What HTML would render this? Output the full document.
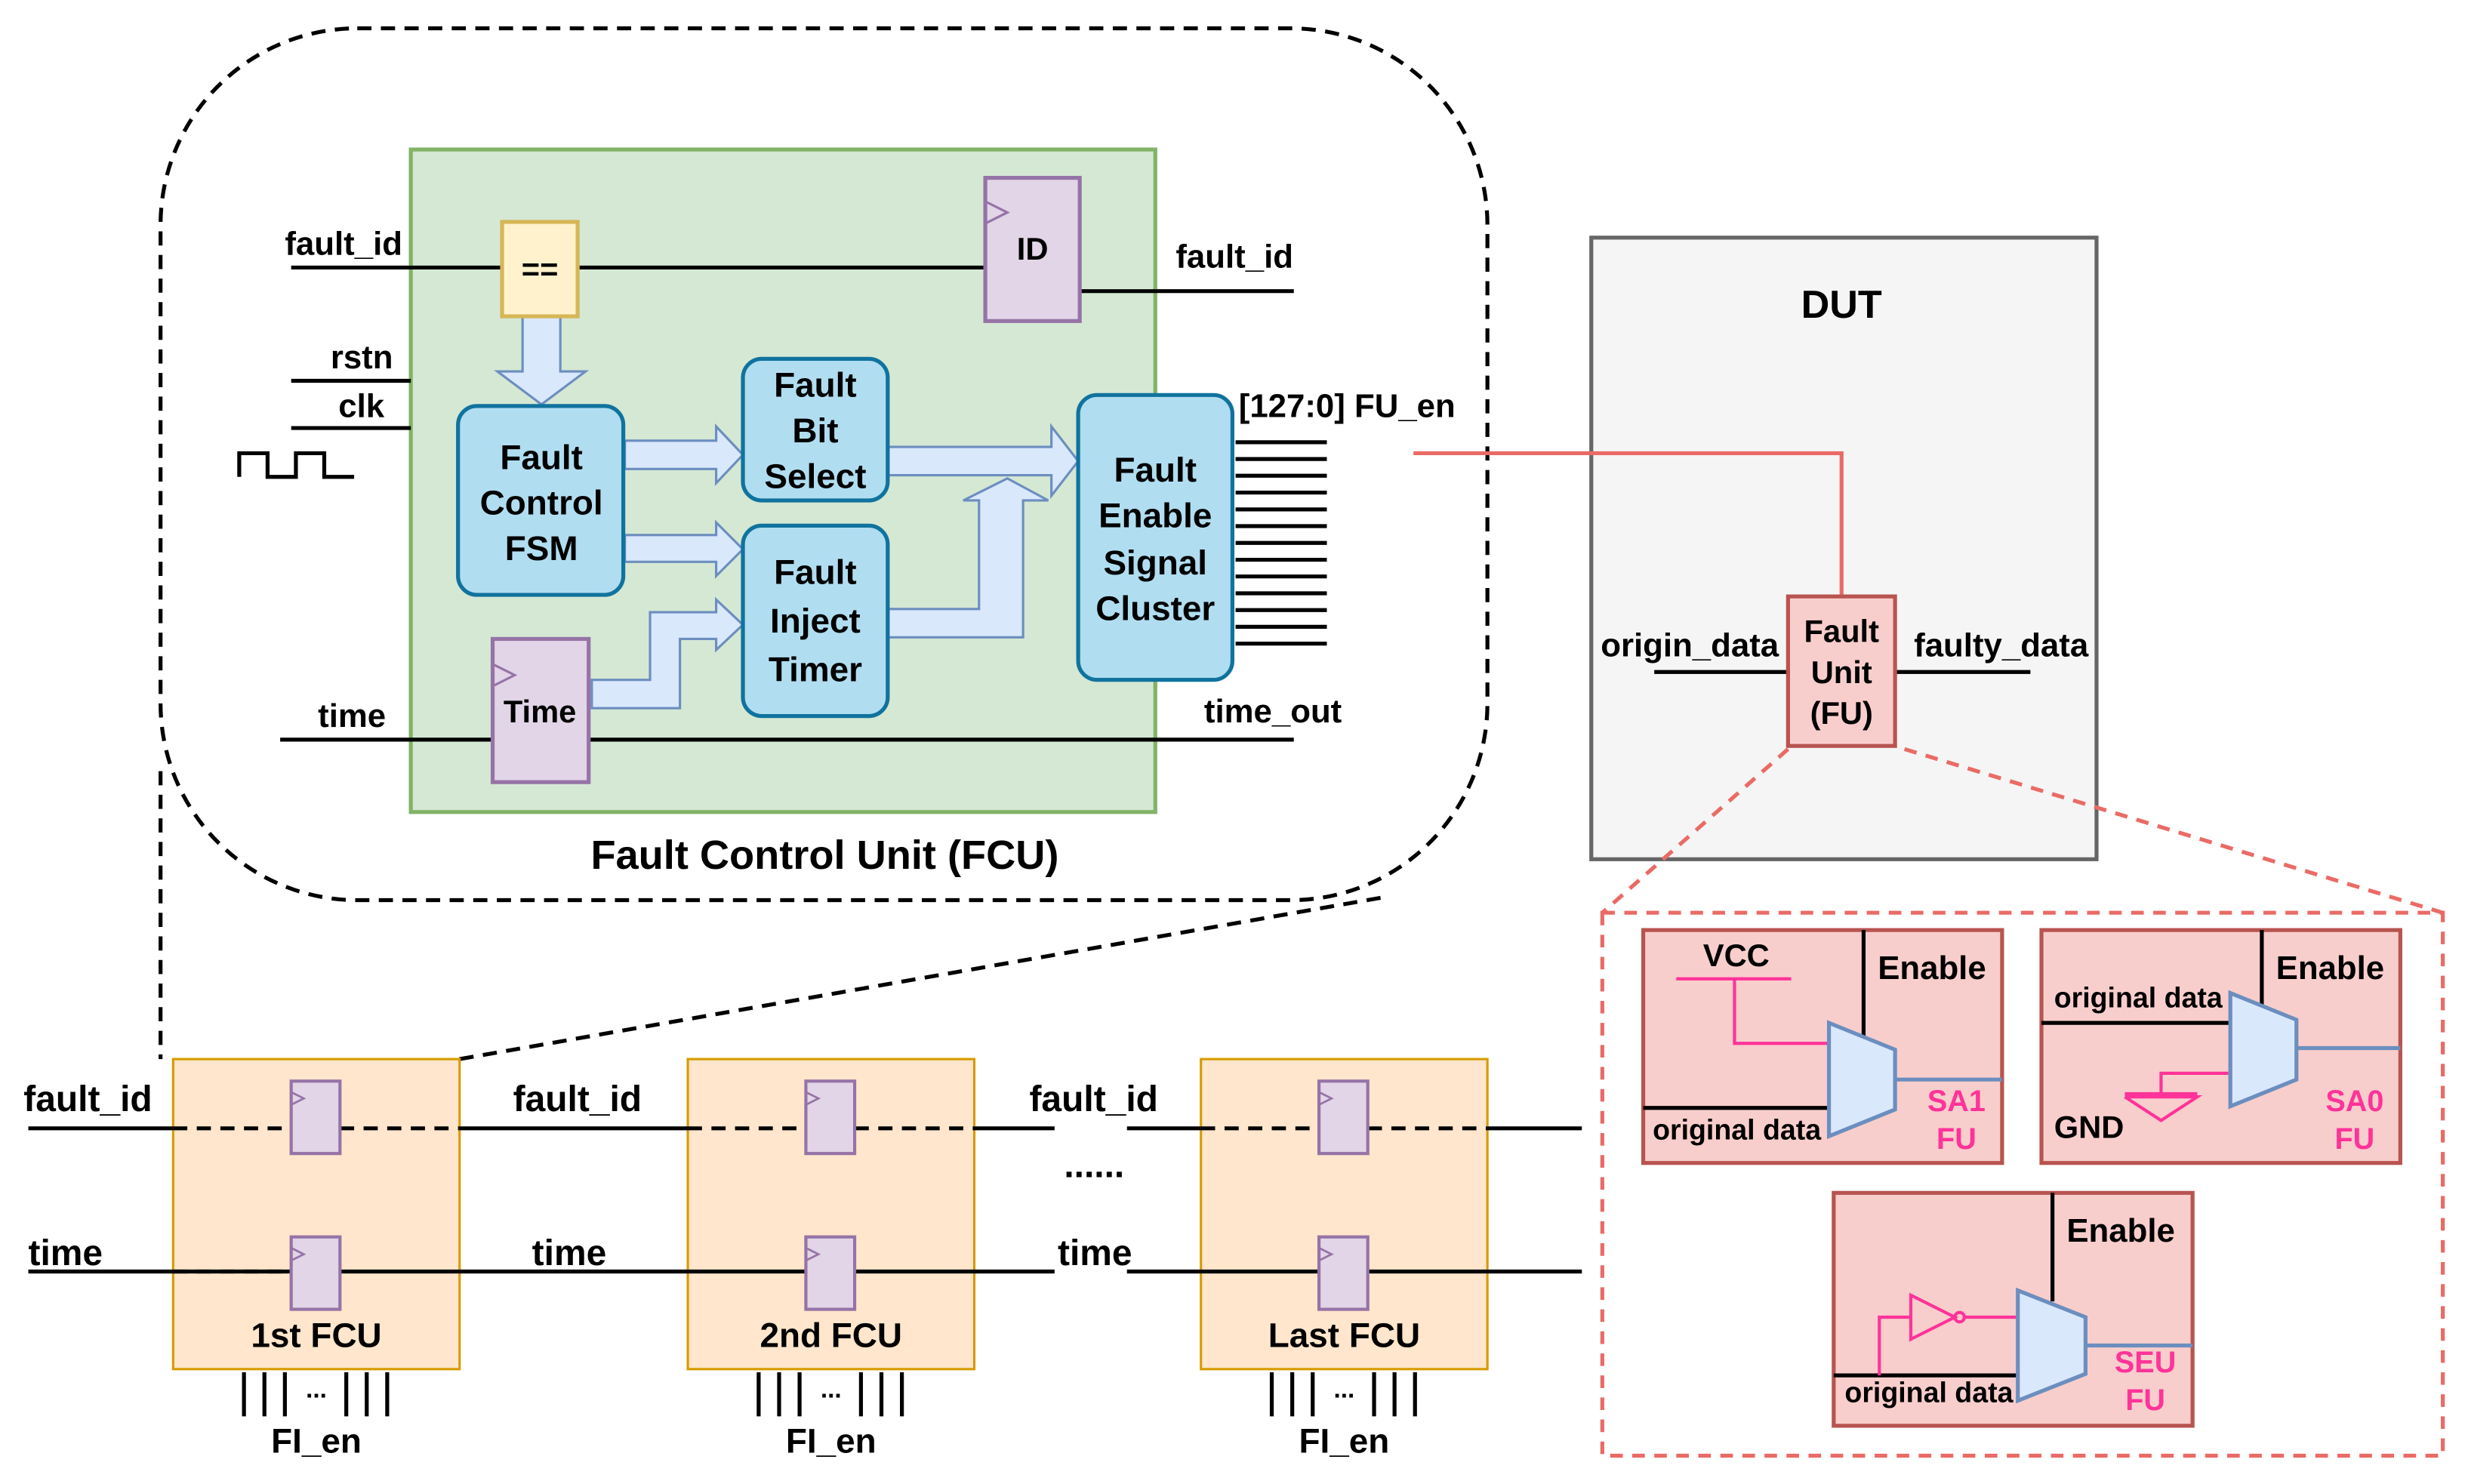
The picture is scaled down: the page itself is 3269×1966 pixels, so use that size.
<!DOCTYPE html>
<html><head><meta charset="utf-8"><style>html,body{margin:0;padding:0;background:#fff}svg{display:block}text{font-family:"Liberation Sans",sans-serif;font-weight:bold;fill:#000}</style></head><body>
<svg width="3269" height="1966" viewBox="0 0 1568 943" xmlns="http://www.w3.org/2000/svg">
<rect x="102" y="18" width="843" height="554" rx="125" fill="none" stroke="#000" stroke-width="2.5" stroke-dasharray="9,6"/>
<rect x="261" y="95" width="473" height="421" fill="#d5e8d4" stroke="#82b366" stroke-width="2.5"/>
<g stroke="#000" stroke-width="2.5" fill="none">
<line x1="185" y1="170" x2="319" y2="170"/><line x1="367" y1="170" x2="626" y2="170"/>
<line x1="686" y1="185" x2="822" y2="185"/>
<line x1="185" y1="242" x2="261" y2="242"/><line x1="185" y1="272" x2="261" y2="272"/>
<polyline points="152,303 152,288 170,288 170,303 188,303 188,288 206,288 206,303 225,303"/>
<line x1="178" y1="470" x2="313" y2="470"/><line x1="374" y1="470" x2="822" y2="470"/>
</g>
<g stroke="#000" stroke-width="2.5">
<line x1="785" y1="281" x2="843" y2="281"/><line x1="785" y1="291.7" x2="843" y2="291.7"/><line x1="785" y1="302.3" x2="843" y2="302.3"/><line x1="785" y1="313" x2="843" y2="313"/><line x1="785" y1="323.7" x2="843" y2="323.7"/><line x1="785" y1="334.3" x2="843" y2="334.3"/><line x1="785" y1="345" x2="843" y2="345"/><line x1="785" y1="355.7" x2="843" y2="355.7"/><line x1="785" y1="366.3" x2="843" y2="366.3"/><line x1="785" y1="377" x2="843" y2="377"/><line x1="785" y1="387.7" x2="843" y2="387.7"/><line x1="785" y1="398.3" x2="843" y2="398.3"/><line x1="785" y1="409" x2="843" y2="409"/>
</g>
<g fill="#dae8fc" stroke="#6c8ebf" stroke-width="1.5">
<polygon points="332,201 356,201 356,236 372,236 344,257 316,236 332,236"/>
<polygon points="397,280 455,280 455,271 472,289 455,307 455,298 397,298"/>
<polygon points="397,340 455,340 455,332 472,349 455,366 455,357 397,357"/>
<polygon points="564,284 668,284 668,271 685,293 668,315 668,302 564,302"/>
<polygon points="564,387 622,387 622,318 612,318 640,304 666,318 650,318 650,405 564,405"/>
<polygon points="376,432 413,432 413,389 455,389 455,381 472,397 455,413 455,406 432,406 432,450 376,450"/>
</g>
<rect x="319" y="141" width="48" height="60" fill="#fff2cc" stroke="#d6b656" stroke-width="2.5"/>
<text x="343" y="178" font-size="20" text-anchor="middle">==</text>
<rect x="626" y="113" width="60" height="91" fill="#e1d5e7" stroke="#9673a6" stroke-width="2.5"/>
<polyline points="626,128 640,135 626,142" fill="none" stroke="#9673a6" stroke-width="1.5"/>
<text x="656" y="165" font-size="20" text-anchor="middle">ID</text>
<rect x="313" y="406" width="61" height="91" fill="#e1d5e7" stroke="#9673a6" stroke-width="2.5"/>
<polyline points="313,422 327,429 313,436" fill="none" stroke="#9673a6" stroke-width="1.5"/>
<text x="343" y="459" font-size="20" text-anchor="middle">Time</text>
<g fill="#b1ddf0" stroke="#10739e" stroke-width="2.5">
<rect x="291" y="258" width="105" height="120" rx="12"/>
<rect x="472" y="228" width="92" height="90" rx="12"/>
<rect x="472" y="334" width="92" height="121" rx="12"/>
<rect x="685" y="251" width="98" height="181" rx="12"/>
</g>
<g font-size="22" text-anchor="middle">
<text x="344" y="298">Fault</text><text x="344" y="327">Control</text><text x="344" y="356">FSM</text>
<text x="518" y="252">Fault</text><text x="518" y="281">Bit</text><text x="518" y="310">Select</text>
<text x="518" y="371">Fault</text><text x="518" y="402">Inject</text><text x="518" y="433">Timer</text>
<text x="734" y="306">Fault</text><text x="734" y="335">Enable</text><text x="734" y="365">Signal</text><text x="734" y="394">Cluster</text>
</g>
<g font-size="21">
<text x="181" y="162">fault_id</text><text x="747" y="170">fault_id</text>
<text x="210" y="234">rstn</text><text x="215" y="265">clk</text>
<text x="202" y="462">time</text><text x="765" y="459">time_out</text>
<text x="787" y="265">[127:0] FU_en</text>
</g>
<text x="524" y="552" font-size="26" text-anchor="middle">Fault Control Unit (FCU)</text>
<rect x="1011" y="151" width="321" height="395" fill="#f5f5f5" stroke="#666" stroke-width="2.5"/>
<text x="1170" y="202" font-size="25" text-anchor="middle">DUT</text>
<polyline points="898,288 1170,288 1170,379" fill="none" stroke="#ea6b66" stroke-width="2.5"/>
<line x1="1051" y1="427" x2="1136" y2="427" stroke="#000" stroke-width="2.5"/>
<line x1="1204" y1="427" x2="1290" y2="427" stroke="#000" stroke-width="2.5"/>
<rect x="1136" y="379" width="68" height="95" fill="#f8cecc" stroke="#b85450" stroke-width="2.5"/>
<g font-size="20" text-anchor="middle"><text x="1170" y="408">Fault</text><text x="1170" y="434">Unit</text><text x="1170" y="460">(FU)</text></g>
<text x="1017" y="417" font-size="21">origin_data</text>
<text x="1216" y="417" font-size="21">faulty_data</text>
<g stroke="#ea6b66" stroke-width="2.5" stroke-dasharray="8,6" fill="none">
<line x1="1136" y1="476" x2="1018" y2="580"/><line x1="1210" y1="476" x2="1552" y2="580"/>
<rect x="1018" y="580" width="534" height="345"/>
</g>
<rect x="1044" y="591" width="228" height="148" fill="#f8cecc" stroke="#b85450" stroke-width="2.5"/>
<line x1="1184" y1="591" x2="1184" y2="659" stroke="#000" stroke-width="2.5"/>
<line x1="1044" y1="704" x2="1162" y2="704" stroke="#000" stroke-width="2.5"/>
<polyline points="1065,622 1138,622" stroke="#ff3399" stroke-width="2" fill="none"/>
<polyline points="1102,622 1102,663 1162,663" stroke="#ff3399" stroke-width="2" fill="none"/>
<line x1="1204" y1="686" x2="1272" y2="686" stroke="#6c8ebf" stroke-width="2.5"/>
<polygon points="1162,650 1204,667 1204,705 1162,722" fill="#dae8fc" stroke="#6c8ebf" stroke-width="2.5"/>
<text x="1082" y="614" font-size="20">VCC</text><text x="1193" y="622" font-size="21">Enable</text>
<text x="1050" y="724" font-size="18">original data</text>
<text x="1243" y="706" font-size="19" text-anchor="middle" style="fill:#ff3399">SA1</text>
<text x="1243" y="730" font-size="19" text-anchor="middle" style="fill:#ff3399">FU</text>
<rect x="1297" y="591" width="228" height="148" fill="#f8cecc" stroke="#b85450" stroke-width="2.5"/>
<line x1="1437" y1="591" x2="1437" y2="652" stroke="#000" stroke-width="2.5"/>
<line x1="1297" y1="650" x2="1417" y2="650" stroke="#000" stroke-width="2.5"/>
<polyline points="1373,695 1373,682 1417,682" stroke="#ff3399" stroke-width="2" fill="none"/>
<line x1="1350" y1="695" x2="1396" y2="695" stroke="#ff3399" stroke-width="2"/>
<polyline points="1350,697 1396,697 1373,712 1350,697" stroke="#ff3399" stroke-width="2" fill="none"/>
<line x1="1459" y1="666" x2="1525" y2="666" stroke="#6c8ebf" stroke-width="2.5"/>
<polygon points="1417,631 1459,648 1459,686 1417,703" fill="#dae8fc" stroke="#6c8ebf" stroke-width="2.5"/>
<text x="1305" y="640" font-size="18">original data</text><text x="1446" y="622" font-size="21">Enable</text>
<text x="1305" y="723" font-size="20">GND</text>
<text x="1496" y="706" font-size="19" text-anchor="middle" style="fill:#ff3399">SA0</text>
<text x="1496" y="730" font-size="19" text-anchor="middle" style="fill:#ff3399">FU</text>
<rect x="1165" y="758" width="228" height="148" fill="#f8cecc" stroke="#b85450" stroke-width="2.5"/>
<line x1="1304" y1="758" x2="1304" y2="827" stroke="#000" stroke-width="2.5"/>
<line x1="1165" y1="874" x2="1282" y2="874" stroke="#000" stroke-width="2.5"/>
<polyline points="1194,874 1194,837 1214,837" stroke="#ff3399" stroke-width="2" fill="none"/>
<polygon points="1214,823 1242,837 1214,851" fill="none" stroke="#ff3399" stroke-width="2"/>
<circle cx="1245" cy="837" r="3" fill="none" stroke="#ff3399" stroke-width="2"/>
<line x1="1248" y1="837" x2="1282" y2="837" stroke="#ff3399" stroke-width="2"/>
<line x1="1325" y1="855" x2="1393" y2="855" stroke="#6c8ebf" stroke-width="2.5"/>
<polygon points="1282,820 1325,837 1325,873 1282,890" fill="#dae8fc" stroke="#6c8ebf" stroke-width="2.5"/>
<text x="1172" y="891" font-size="18">original data</text><text x="1313" y="789" font-size="21">Enable</text>
<text x="1363" y="872" font-size="19" text-anchor="middle" style="fill:#ff3399">SEU</text>
<text x="1363" y="896" font-size="19" text-anchor="middle" style="fill:#ff3399">FU</text>
<g stroke="#000" stroke-width="2.5" stroke-dasharray="9,6" fill="none">
<line x1="102" y1="490" x2="102" y2="673"/><line x1="292" y1="673" x2="880" y2="570"/>
</g>
<g fill="#ffe6cc" stroke="#d79b00" stroke-width="1.5">
<rect x="110" y="673" width="182" height="197"/><rect x="437" y="673" width="182" height="197"/><rect x="763" y="673" width="182" height="197"/>
</g>
<g stroke="#000" stroke-width="2.5">
<line x1="18" y1="717" x2="110" y2="717"/><line x1="292" y1="717" x2="437" y2="717"/><line x1="619" y1="717" x2="670" y2="717"/><line x1="716" y1="717" x2="763" y2="717"/><line x1="945" y1="717" x2="1005" y2="717"/>
<line x1="18" y1="808" x2="185" y2="808"/><line x1="216" y1="808" x2="512" y2="808"/><line x1="543" y1="808" x2="670" y2="808"/><line x1="716" y1="808" x2="838" y2="808"/><line x1="869" y1="808" x2="1005" y2="808"/>
</g>
<g stroke="#000" stroke-width="2.5" stroke-dasharray="9,6">
<line x1="110" y1="717" x2="185" y2="717"/><line x1="216" y1="717" x2="292" y2="717"/>
<line x1="437" y1="717" x2="512" y2="717"/><line x1="543" y1="717" x2="619" y2="717"/>
<line x1="763" y1="717" x2="838" y2="717"/><line x1="869" y1="717" x2="945" y2="717"/>
<line x1="110" y1="808" x2="185" y2="808"/>
</g>
<g fill="#e1d5e7" stroke="#9673a6" stroke-width="2">
<rect x="185" y="687" width="31" height="46"/><rect x="185" y="786" width="31" height="46"/>
<rect x="512" y="687" width="31" height="46"/><rect x="512" y="786" width="31" height="46"/>
<rect x="838" y="687" width="31" height="46"/><rect x="838" y="786" width="31" height="46"/>
</g>
<g fill="none" stroke="#9673a6" stroke-width="1.3">
<polyline points="185,694 193,698 185,702"/><polyline points="185,793 193,797 185,801"/>
<polyline points="512,694 520,698 512,702"/><polyline points="512,793 520,797 512,801"/>
<polyline points="838,694 846,698 838,702"/><polyline points="838,793 846,797 838,801"/>
</g>
<g font-size="23">
<text x="15" y="706">fault_id</text><text x="326" y="706">fault_id</text><text x="654" y="706">fault_id</text>
<text x="18" y="804">time</text><text x="338" y="804">time</text><text x="672" y="804">time</text>
<text x="676" y="748">......</text>
</g>
<g font-size="22" text-anchor="middle">
<text x="201" y="856">1st FCU</text><text x="528" y="856">2nd FCU</text><text x="854" y="856">Last FCU</text>
<text x="201" y="923">FI_en</text><text x="528" y="923">FI_en</text><text x="854" y="923">FI_en</text>
</g>
<g stroke="#000" stroke-width="2.5">
<line x1="155" y1="872" x2="155" y2="900"/><line x1="168" y1="872" x2="168" y2="900"/><line x1="181" y1="872" x2="181" y2="900"/><line x1="220" y1="872" x2="220" y2="900"/><line x1="233" y1="872" x2="233" y2="900"/><line x1="246" y1="872" x2="246" y2="900"/>
<line x1="482" y1="872" x2="482" y2="900"/><line x1="495" y1="872" x2="495" y2="900"/><line x1="508" y1="872" x2="508" y2="900"/><line x1="547" y1="872" x2="547" y2="900"/><line x1="560" y1="872" x2="560" y2="900"/><line x1="573" y1="872" x2="573" y2="900"/>
<line x1="808" y1="872" x2="808" y2="900"/><line x1="821" y1="872" x2="821" y2="900"/><line x1="834" y1="872" x2="834" y2="900"/><line x1="873" y1="872" x2="873" y2="900"/><line x1="886" y1="872" x2="886" y2="900"/><line x1="899" y1="872" x2="899" y2="900"/>
</g>
<g font-size="16" text-anchor="middle"><text x="201" y="888">...</text><text x="528" y="888">...</text><text x="854" y="888">...</text></g>
</svg>
</body></html>
